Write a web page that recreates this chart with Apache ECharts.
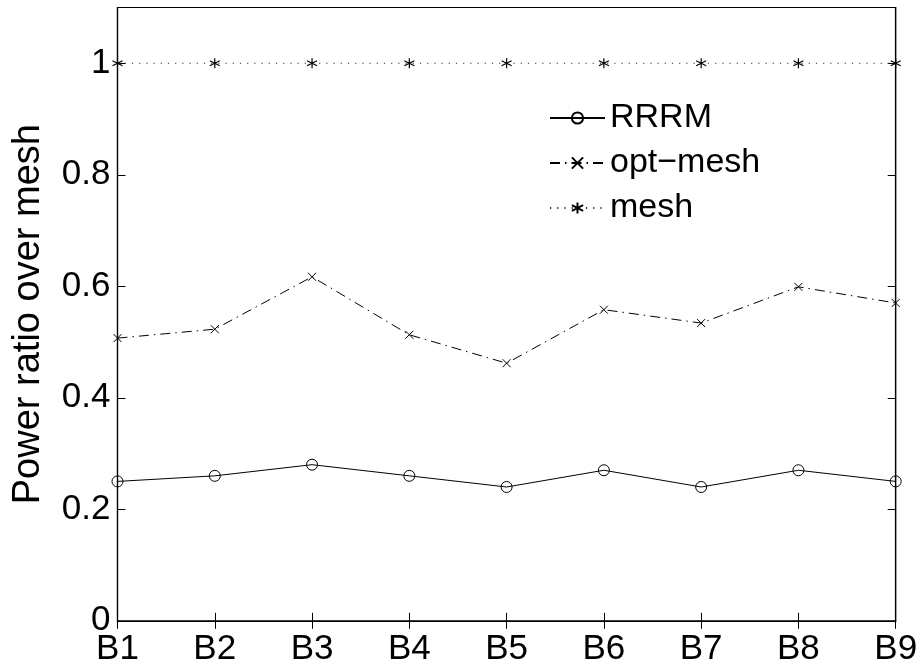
<!DOCTYPE html>
<html>
<head>
<meta charset="utf-8">
<script src="https://cdn.jsdelivr.net/npm/echarts@6/dist/echarts.min.js"></script>
<style>
  html, body { margin: 0; padding: 0; background: #fff; }
  #chart { width: 924px; height: 671px; }
</style>
</head>
<body>
<div id="chart"></div>
<script>
// Benchmarks along the x axis
const categories = ['B1', 'B2', 'B3', 'B4', 'B5', 'B6', 'B7', 'B8', 'B9'];
// Power ratio relative to mesh for each scheme
const rrrm     = [0.25, 0.26, 0.28, 0.26, 0.24, 0.27, 0.24, 0.27, 0.25];
const optMesh  = [0.507, 0.523, 0.617, 0.513, 0.462, 0.558, 0.534, 0.599, 0.570];
const mesh     = [1, 1, 1, 1, 1, 1, 1, 1, 1];
// Y axis tick labels
const yTickLabels = { 0: '0', 0.2: '0.2', 0.4: '0.4', 0.6: '0.6', 0.8: '0.8', 1: '1' };

const FONT = 'Liberation Sans, Arial, Helvetica, sans-serif';
const INK = '#000';

const asterisk = 'path://M0,-1L0,1M-0.866,-0.5L0.866,0.5M-0.866,0.5L0.866,-0.5';
const cross = 'path://M-1,-1L1,1M-1,1L1,-1';

const chart = echarts.init(document.getElementById('chart'), null, { renderer: 'canvas' });

const tickStyle = { show: true, inside: true, length: 8, lineStyle: { color: INK, width: 1 } };

chart.setOption({
  animation: false,
  backgroundColor: '#fff',
  grid: {
    left: 117.5, right: 28.3, top: 7.5, bottom: 50.2,
    outerBoundsMode: 'none', containLabel: false,
    show: true, borderColor: INK, borderWidth: 1.2, backgroundColor: 'transparent'
  },
  legend: {
    orient: 'vertical',
    left: 549, top: 101, padding: 0,
    itemWidth: 55, itemHeight: 14, itemGap: 11,
    textStyle: { fontFamily: FONT, fontSize: 34, color: INK, lineHeight: 34 },
    data: ['RRRM', 'opt\u2212mesh', 'mesh']
  },
  xAxis: [{
    type: 'category', data: categories, boundaryGap: false,
    axisLine: { show: true, lineStyle: { color: INK, width: 1.2 } },
    axisTick: Object.assign({ alignWithLabel: true }, tickStyle),
    axisLabel: { fontFamily: FONT, fontSize: 35, color: INK, margin: 11 },
    splitLine: { show: false }
  }, {
    type: 'category', data: categories, boundaryGap: false, position: 'top',
    axisLine: { show: true, lineStyle: { color: INK, width: 1.2 } },
    axisTick: tickStyle,
    axisLabel: { show: false },
    splitLine: { show: false }
  }],
  yAxis: [{
    type: 'value', min: 0, max: 1.1, interval: 0.2,
    name: 'Power ratio over mesh',
    nameLocation: 'middle', nameGap: 70,
    nameTextStyle: { fontFamily: FONT, fontSize: 38, color: INK },
    axisLine: { show: true, lineStyle: { color: INK, width: 1.2 } },
    axisTick: tickStyle,
    axisLabel: {
      fontFamily: FONT, fontSize: 35, color: INK, margin: 7,
      showMaxLabel: false,
      formatter: v => { const k = Math.round(v * 10) / 10; return yTickLabels[k] !== undefined ? yTickLabels[k] : ''; }
    },
    splitLine: { show: false }
  }, {
    type: 'value', min: 0, max: 1.1, interval: 0.2, position: 'right',
    axisLine: { show: true, lineStyle: { color: INK, width: 1.2 } },
    axisTick: tickStyle,
    axisLabel: { show: false },
    splitLine: { show: false }
  }],
  series: [{
    name: 'RRRM', type: 'line', data: rrrm, clip: false,
    symbol: 'circle', symbolSize: 11,
    itemStyle: { color: 'rgba(0,0,0,0)', borderColor: INK, borderWidth: 1 },
    lineStyle: { color: INK, width: 1, type: 'solid' }
  }, {
    name: 'opt\u2212mesh', type: 'line', data: optMesh, clip: false,
    symbol: cross, symbolSize: 8,
    itemStyle: { color: 'rgba(0,0,0,0)', borderColor: INK, borderWidth: 1 },
    lineStyle: { color: INK, width: 1, type: [10, 5, 1.5, 5] }
  }, {
    name: 'mesh', type: 'line', data: mesh, clip: false,
    symbol: asterisk, symbolSize: 10,
    itemStyle: { color: 'rgba(0,0,0,0)', borderColor: INK, borderWidth: 1.2 },
    lineStyle: { color: '#333', width: 1, type: [1.2, 6] }
  }]
});
</script>
</body>
</html>
